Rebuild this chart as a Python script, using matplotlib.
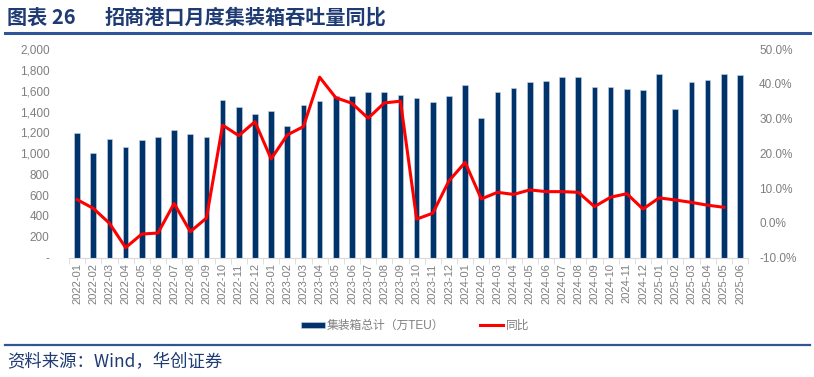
import matplotlib
matplotlib.use('Agg')
import matplotlib.pyplot as plt
import matplotlib.ticker as mticker
import numpy as np

plt.rcParams['font.family'] = ['Liberation Sans', 'Noto Sans CJK SC', 'DejaVu Sans']

# 月份
months = ['2022-01', '2022-02', '2022-03', '2022-04', '2022-05', '2022-06', '2022-07', '2022-08', '2022-09',
          '2022-10', '2022-11', '2022-12', '2023-01', '2023-02', '2023-03', '2023-04', '2023-05', '2023-06',
          '2023-07', '2023-08', '2023-09', '2023-10', '2023-11', '2023-12', '2024-01', '2024-02', '2024-03',
          '2024-04', '2024-05', '2024-06', '2024-07', '2024-08', '2024-09', '2024-10', '2024-11', '2024-12',
          '2025-01', '2025-02', '2025-03', '2025-04', '2025-05', '2025-06']

# 集装箱总计（万TEU）
volume = [1192, 1006, 1140, 1058, 1128, 1154, 1221, 1182, 1154,
          1511, 1447, 1380, 1406, 1259, 1460, 1499, 1550, 1550,
          1585, 1590, 1556, 1527, 1492, 1547, 1655, 1336, 1585,
          1626, 1681, 1693, 1729, 1735, 1633, 1636, 1617, 1610,
          1760, 1428, 1684, 1703, 1760, 1748]

# 同比 (%), 2025-06 no value
yoy = [6.7, 4.2, -0.1, -7.1, -3.2, -2.9, 5.6, -2.5, 1.4,
       28.1, 25.1, 29.1, 18.4, 25.3, 27.7, 41.9, 36.0, 34.4,
       30.1, 34.5, 35.0, 1.1, 2.8, 12.1, 17.4, 6.9, 8.8,
       8.2, 9.5, 9.0, 9.0, 8.8, 4.7, 7.4, 8.4, 4.0,
       7.2, 6.6, 5.9, 5.1, 4.5, np.nan]

navy = '#00336a'
gray = '#7f7f7f'
title_blue = '#1f3b73'
cjk = ['Noto Sans CJK SC', 'DejaVu Sans']

fig = plt.figure(figsize=(8.14, 3.77), dpi=100)

# title + rule
fig.text(0.009, 0.955, '图表 26', fontsize=14.5, fontweight='bold',
         color=title_blue, va='center', ha='left', family=cjk)
fig.text(0.129, 0.955, '招商港口月度集装箱吞吐量同比', fontsize=14.5, fontweight='bold',
         color=title_blue, va='center', ha='left', family=cjk)
fig.add_artist(plt.Line2D([0.006, 0.995], [0.913, 0.913], color='#2f5597', lw=2.2))

# source rule + text
fig.add_artist(plt.Line2D([0.006, 0.995], [0.085, 0.085], color='#2f5597', lw=1.6))
fig.text(0.009, 0.04, '资料来源：Wind，华创证券', fontsize=12.5, color=title_blue, style='italic',
         va='center', ha='left', family=cjk)

ax = fig.add_axes([0.0848, 0.3164, 0.8342, 0.5536])
x = np.arange(len(months))
bars = ax.bar(x, volume, width=0.35, color=navy, edgecolor='#c9d6e8', linewidth=0.4,
              label='集装箱总计（万TEU）', zorder=2)
ax.set_xlim(-0.5, len(months) - 0.5)
ax.set_ylim(0, 2000)
ax.yaxis.set_major_locator(mticker.MultipleLocator(200))
ax.yaxis.set_major_formatter(mticker.FuncFormatter(lambda v, p: '-' if v == 0 else f'{v:,.0f}'))
ax.set_xticks(x)
ax.set_xticklabels(months, rotation=90, fontsize=8, color=gray)
ax.set_xticks(np.arange(-0.5, len(months), 1), minor=True)
ax.tick_params(axis='x', which='major', length=0, pad=4)
ax.tick_params(axis='x', which='minor', length=4, color='#d9d9d9', direction='out')
ax.tick_params(axis='y', length=0, labelsize=8.5, labelcolor=gray, pad=14)
for s in ['top', 'left', 'right']:
    ax.spines[s].set_visible(False)
ax.spines['bottom'].set_color('#d9d9d9')

ax2 = ax.twinx()
line, = ax2.plot(x, yoy, color='#ff0000', lw=2.2, label='同比', zorder=3)
ax2.set_ylim(-10, 50)
ax2.yaxis.set_major_locator(mticker.MultipleLocator(10))
ax2.yaxis.set_major_formatter(mticker.FuncFormatter(lambda v, p: f'{v:.1f}%'))
ax2.tick_params(axis='y', length=0, labelsize=8.5, labelcolor=gray, pad=8)
for s in ['top', 'left', 'right', 'bottom']:
    ax2.spines[s].set_visible(False)

leg = fig.legend(handles=[bars, line], labels=['集装箱总计（万TEU）', '同比'], loc='center',
                 bbox_to_anchor=(0.51, 0.135), ncol=2, frameon=False,
                 handlelength=2.0, handleheight=0.5, columnspacing=3.0, handletextpad=0.2,
                 prop={'family': ['Liberation Sans', 'Noto Sans CJK SC'], 'size': 8.5})
for t in leg.get_texts():
    t.set_color('#7f7f7f')

fig.savefig('out.png', dpi=100)
